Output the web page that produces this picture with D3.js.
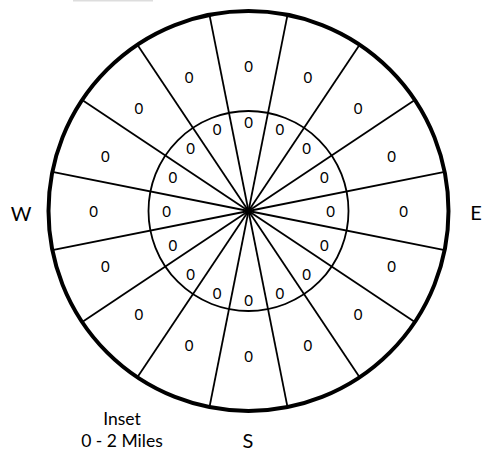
<!DOCTYPE html>
<html>
<head>
<meta charset="utf-8">
<script src="https://d3js.org/d3.v7.min.js"></script>
<style>
body { margin: 0; background: #fff; }
svg { display: block; }
</style>
</head>
<body>
<svg id="chart" width="482" height="451"></svg>
<script>
// 16 compass sectors, counts for each ring
var directions = ["N","NNE","NE","ENE","E","ESE","SE","SSE","S","SSW","SW","WSW","W","WNW","NW","NNW"];
var outerValues = [0,0,0,0,0,0,0,0,0,0,0,0,0,0,0,0];
var innerValues = [0,0,0,0,0,0,0,0,0,0,0,0,0,0,0,0];
var compassLabels = ["W","E","S"];
var insetLines = ["Inset","0 - 2 Miles"];

var svg = d3.select("#chart"),
	cx = 248.5, cy = 211,
	R = 200, r = 100;

// sector angle scale (degrees clockwise from north)
var angle = d3.scaleBand()
	.domain(directions)
	.range([-11.25, 360 - 11.25]);

function pt(deg, rx, ry) {
	var a = deg * Math.PI / 180;
	if (ry === undefined) ry = rx;
	return [cx + rx * Math.sin(a), cy - ry * Math.cos(a)];
}

var g = svg.append("g");

// faint mark at top left
svg.append("rect").attr("x", 73).attr("y", 0).attr("width", 80).attr("height", 1.5).attr("fill", "#dddddd");

// spokes at sector boundaries
g.selectAll("line.spoke")
	.data(directions)
	.enter().append("line")
	.attr("class", "spoke")
	.attr("x1", cx).attr("y1", cy)
	.attr("x2", function(d) { return pt(angle(d), R)[0]; })
	.attr("y2", function(d) { return pt(angle(d), R)[1]; })
	.attr("stroke", "#000")
	.attr("stroke-width", 1.8);

g.append("circle").attr("cx", cx).attr("cy", cy).attr("r", r)
	.attr("fill", "none").attr("stroke", "#000").attr("stroke-width", 1.8);
g.append("circle").attr("cx", cx).attr("cy", cy).attr("r", R)
	.attr("fill", "none").attr("stroke", "#000").attr("stroke-width", 4);
g.append("circle").attr("cx", cx).attr("cy", cy).attr("r", 3).attr("fill", "#000");

var font = "Lato, 'Open Sans', sans-serif";

function mid(d) { return angle(d) + angle.bandwidth() / 2; }

g.selectAll("text.outer")
	.data(outerValues)
	.enter().append("text")
	.attr("class", "outer")
	.attr("x", function(v, i) { return pt(mid(directions[i]), 155, 145)[0]; })
	.attr("y", function(v, i) { return pt(mid(directions[i]), 155, 145)[1]; })
	.attr("text-anchor", "middle").attr("dominant-baseline", "central")
	.style("font-family", font).style("font-size", "15px")
	.text(function(v) { return v; });

g.selectAll("text.inner")
	.data(innerValues)
	.enter().append("text")
	.attr("class", "inner")
	.attr("x", function(v, i) { return pt(mid(directions[i]), 82, 89)[0]; })
	.attr("y", function(v, i) { return pt(mid(directions[i]), 82, 89)[1]; })
	.attr("text-anchor", "middle").attr("dominant-baseline", "central")
	.style("font-family", font).style("font-size", "15px")
	.text(function(v) { return v; });

var compassPos = {"W": [21, 213], "E": [476, 212], "S": [248, 440]};
svg.selectAll("text.compass")
	.data(compassLabels)
	.enter().append("text")
	.attr("class", "compass")
	.attr("x", function(d) { return compassPos[d][0]; })
	.attr("y", function(d) { return compassPos[d][1]; })
	.attr("text-anchor", "middle").attr("dominant-baseline", "central")
	.style("font-family", font).style("font-size", "20px")
	.text(function(d) { return d; });

svg.selectAll("text.inset")
	.data(insetLines)
	.enter().append("text")
	.attr("class", "inset")
	.attr("x", 122)
	.attr("y", function(d, i) { return 418 + i * 22; })
	.attr("text-anchor", "middle").attr("dominant-baseline", "central")
	.style("font-family", font).style("font-size", "17.5px")
	.text(function(d) { return d; });
</script>
</body>
</html>
